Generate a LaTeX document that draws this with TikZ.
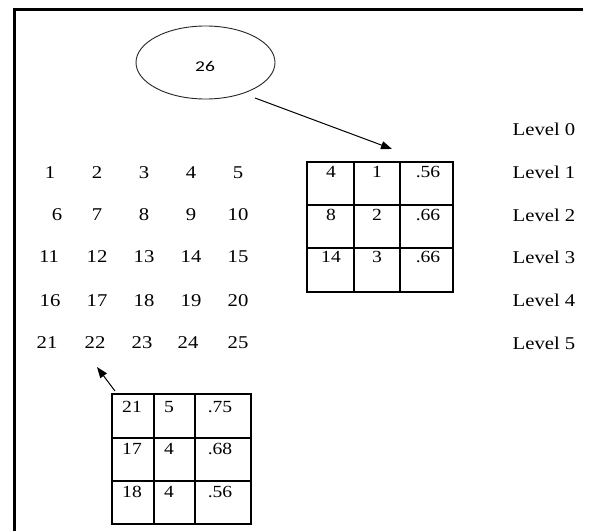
\documentclass[tikz,border=0pt]{standalone}
\usepackage{fontspec}
\setmainfont{Liberation Serif}
\newfontfamily\rootfont{Carlito}
\usetikzlibrary{shapes.geometric,arrows.meta}
\begin{document}
\begin{tikzpicture}[x=1pt,y=-1pt,
  txt/.style={inner sep=0pt, anchor=center, xscale=1.15, font=\fontsize{18}{20}\selectfont},
  celltxt/.style={inner sep=0pt, anchor=center, xscale=1.15, font=\fontsize{17}{19}\selectfont},
  frameline/.style={line width=3pt},
  cellline/.style={line width=1.3pt},
  tablebox/.style={draw, line width=1.3pt, rectangle, inner sep=0pt},
  pointer/.style={line width=1pt, -{Triangle[length=11pt,width=8pt]}}]
\useasboundingbox (0,0) rectangle (593,530);
\fill[white] (0,0) rectangle (593,530);

% page frame (top and left edges)
\draw[frameline, line join=miter] (583,9) -- (14,9) -- (14,532);

% root node
\node[ellipse, draw, line width=0.9pt, draw=black!85, minimum width=139pt, minimum height=73pt, inner sep=0pt] (root) at (205.5,62.5) {};
\node[inner sep=0pt, xscale=1.3, font=\rootfont\fontsize{15}{17}\selectfont] (rootlbl) at (205,66) {26};

% grid of points
\foreach \lab/\px/\py in {1/50/173, 2/97/173, 3/144/173, 4/191/173, 5/238/173,
  6/57/215, 7/97/215, 8/144/215, 9/191/215, 10/238/215,
  11/49/257, 12/97/257, 13/144/257, 14/191/257, 15/238/257,
  16/50/301, 17/97/301, 18/144/301, 19/191/301, 20/238/301,
  21/47/343, 22/95/343, 23/142/343, 24/188/343, 25/238/343}
  \node[txt] (p\lab) at (\px,\py) {\lab};

% level labels
\foreach \k/\py in {0/129, 1/172, 2/215, 3/257, 4/300, 5/343}
  \node[txt] (lev\k) at (544,\py) {Level \k};

% first table
\node[tablebox, minimum width=146pt, minimum height=130pt] (ta) at (380,227) {};
\draw[cellline] (354,162) -- (354,292) (400,162) -- (400,292)
  (307,205) -- (453,205) (307,248) -- (453,248);
\foreach \r/\py in {1/172, 2/215, 3/257}{
  \foreach \c/\px in {1/331, 2/377, 3/428}{
    \coordinate (ta-\r-\c) at (\px,\py);
  }
}
\node[celltxt] at (ta-1-1) {4};
\node[celltxt] at (ta-1-2) {1};
\node[celltxt] at (ta-1-3) {.56};
\node[celltxt] at (ta-2-1) {8};
\node[celltxt] at (ta-2-2) {2};
\node[celltxt] at (ta-2-3) {.66};
\node[celltxt] at (ta-3-1) {14};
\node[celltxt] at (ta-3-2) {3};
\node[celltxt] at (ta-3-3) {.66};

% second table
\node[tablebox, minimum width=139pt, minimum height=130pt] (tb) at (181.5,459) {};
\draw[cellline] (154,394) -- (154,524) (195,394) -- (195,524)
  (112,438) -- (251,438) (112,481) -- (251,481);
\foreach \r/\py in {1/407, 2/449, 3/492}{
  \foreach \c/\px in {1/132, 2/169, 3/220}{
    \coordinate (tb-\r-\c) at (\px,\py);
  }
}
\node[celltxt] at (tb-1-1) {21};
\node[celltxt] at (tb-1-2) {5};
\node[celltxt] at (tb-1-3) {.75};
\node[celltxt] at (tb-2-1) {17};
\node[celltxt] at (tb-2-2) {4};
\node[celltxt] at (tb-2-3) {.68};
\node[celltxt] at (tb-3-1) {18};
\node[celltxt] at (tb-3-2) {4};
\node[celltxt] at (tb-3-3) {.56};

% pointers
\coordinate (a1s) at (255,98);
\coordinate (a1e) at (392,149);
\coordinate (a2s) at (115,391);
\coordinate (a2e) at (97,367);
\draw[pointer] (a1s) -- (a1e);
\draw[pointer] (a2s) -- (a2e);
\end{tikzpicture}
\end{document}
